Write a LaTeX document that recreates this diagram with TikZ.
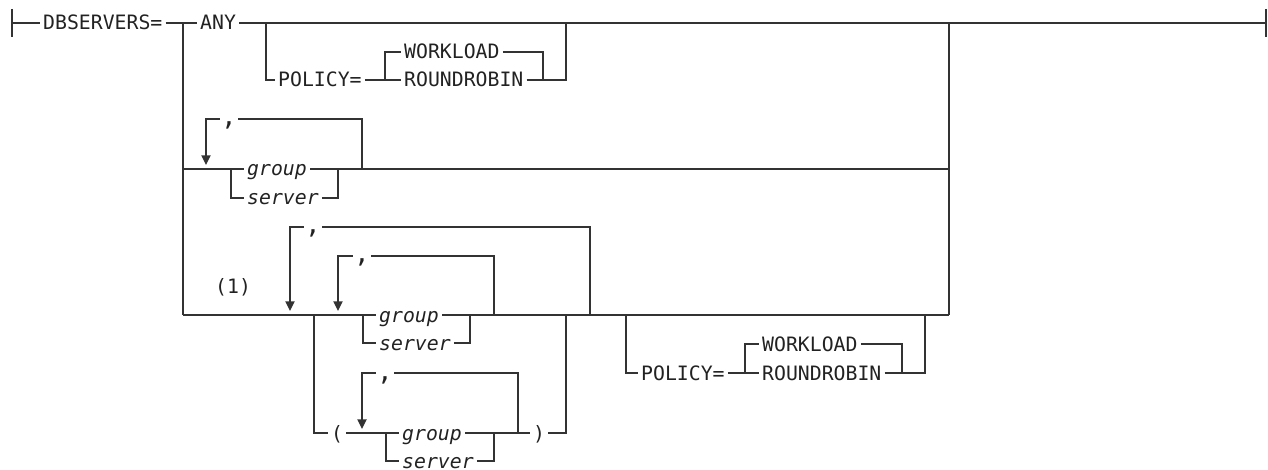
\documentclass[tikz,border=0pt]{standalone}
\usepackage{fontspec}
\newfontfamily\railfont{DejaVu Sans Mono}
\usepackage{tikz}
\usetikzlibrary{arrows.meta}
\definecolor{railgray}{HTML}{333333}
\definecolor{inkgray}{HTML}{222222}
\newcommand\railcomma{{\fontsize{13pt}{14pt}\selectfont,}}

\begin{document}
\begin{tikzpicture}[x=0.5pt, y=-0.5pt,
        rail/.style={draw=railgray, line width=0.7pt},
        loopback/.style={rail, -{Triangle[length=4.8pt, width=4.6pt]}},
        word/.style={anchor=west, inner xsep=1.4pt, inner ysep=0pt, text height=7pt, text depth=0pt,
            text=inkgray, font=\railfont\fontsize{9.9pt}{11pt}\selectfont},
        var/.style={word, font=\railfont\itshape\fontsize{9.9pt}{11pt}\selectfont},
        sep/.style={word, anchor=center, inner xsep=0.6pt},
        endbar/.style={rail}]
    \useasboundingbox (0,0) rectangle (1268,470);

    % main line
    \coordinate (lstart) at (12,23);
    \coordinate (rend) at (1266,23);
    \coordinate (jl) at (183,23);
    \coordinate (jr) at (949,23);
    \node [word] (dbs) at (40,23) {DBSERVERS=};
    \node [word] (any) at (197,23) {ANY};

    % ANY POLICY=
    \coordinate (p1a) at (266,23);
    \coordinate (p1b) at (266,80);
    \coordinate (p1c) at (566,80);
    \coordinate (p1d) at (566,23);
    \node [word] (pol1) at (275,80) {POLICY=};
    \coordinate (w1a) at (385,52);
    \coordinate (w1b) at (385,80);
    \coordinate (w1c) at (543,52);
    \coordinate (w1d) at (543,80);
    \node [word] (wl1) at (401,52) {WORKLOAD};
    \node [word] (rr1) at (401,80) {ROUNDROBIN};

    % row 2
    \coordinate (r2a) at (183,169);
    \coordinate (r2b) at (949,169);
    \coordinate (l2a) at (206,165);
    \coordinate (l2b) at (206,119);
    \coordinate (l2c) at (362,119);
    \coordinate (l2d) at (362,169);
    \node [sep] (c2) at (229,119) {\railcomma};
    \coordinate (g2a) at (231,169);
    \coordinate (g2b) at (231,198);
    \coordinate (g2c) at (338,169);
    \coordinate (g2d) at (338,198);
    \node [var] (grp2) at (244,169) {group};
    \node [var] (srv2) at (244,198) {server};

    % row 3
    \coordinate (r3a) at (183,315);
    \coordinate (r3b) at (949,315);
    \node [word] (note) at (212,286) {(1)};
    \coordinate (o3a) at (290,311);
    \coordinate (o3b) at (290,227);
    \coordinate (o3c) at (590,227);
    \coordinate (o3d) at (590,315);
    \node [sep] (c3) at (313,227) {\railcomma};
    \coordinate (i3a) at (338,311);
    \coordinate (i3b) at (338,256);
    \coordinate (i3c) at (494,256);
    \coordinate (i3d) at (494,315);
    \node [sep] (c4) at (362,256) {\railcomma};
    \coordinate (q3a) at (314,315);
    \coordinate (q3b) at (314,433);
    \coordinate (q3c) at (566,315);
    \coordinate (q3d) at (566,433);
    \coordinate (g3a) at (363,315);
    \coordinate (g3b) at (363,343);
    \coordinate (g3c) at (470,315);
    \coordinate (g3d) at (470,343);
    \node [var] (grp3) at (376,315) {group};
    \node [var] (srv3) at (376,343) {server};

    % ( ... )
    \node [word, anchor=center] (lp) at (337,433) {(};
    \node [word, anchor=center] (rp) at (539,433) {)};
    \coordinate (k3a) at (362,429);
    \coordinate (k3b) at (362,373);
    \coordinate (k3c) at (518,373);
    \coordinate (k3d) at (518,433);
    \node [sep] (c5) at (385,373) {\railcomma};
    \coordinate (g4a) at (386,433);
    \coordinate (g4b) at (386,461);
    \coordinate (g4c) at (494,433);
    \coordinate (g4d) at (494,461);
    \node [var] (grp4) at (399,433) {group};
    \node [var] (srv4) at (399,461) {server};

    % row 3 POLICY=
    \coordinate (p2a) at (626,315);
    \coordinate (p2b) at (626,373);
    \coordinate (p2c) at (925,373);
    \coordinate (p2d) at (925,315);
    \node [word] (pol2) at (638,373) {POLICY=};
    \coordinate (w2a) at (745,344);
    \coordinate (w2b) at (745,373);
    \coordinate (w2c) at (902,344);
    \coordinate (w2d) at (902,373);
    \node [word] (wl2) at (759,344) {WORKLOAD};
    \node [word] (rr2) at (759,373) {ROUNDROBIN};

    \draw [endbar] ([yshift=7pt]lstart) -- ([yshift=-7pt]lstart);
    \draw [endbar] ([yshift=7pt]rend) -- ([yshift=-7pt]rend);

    \draw [rail] (lstart) -- (dbs.west);
    \draw [rail] (dbs.east) -- (any.west);
    \draw [rail] (any.east) -- (rend);
    \draw [rail] (jl) -- (r3a);
    \draw [rail] (jr) -- (r3b);

    \draw [rail] (p1a) -- (p1b) -- (pol1.west);
    \draw [rail] (pol1.east) -- (w1b) -- (rr1.west);
    \draw [rail] (w1b) -- (w1a) -- (wl1.west);
    \draw [rail] (wl1.east) -- (w1c) -- (w1d);
    \draw [rail] (rr1.east) -- (p1c) -- (p1d);

    \draw [rail] (r2a) -- (grp2.west);
    \draw [rail] (grp2.east) -- (r2b);
    \draw [rail] (g2a) -- (g2b) -- (srv2.west);
    \draw [rail] (srv2.east) -- (g2d) -- (g2c);
    \draw [rail] (l2d) -- (l2c) -- (c2.east);
    \draw [loopback] (c2.west) -- (l2b) -- (l2a);

    \draw [rail] (r3a) -- (grp3.west);
    \draw [rail] (grp3.east) -- (r3b);
    \draw [rail] (g3a) -- (g3b) -- (srv3.west);
    \draw [rail] (srv3.east) -- (g3d) -- (g3c);
    \draw [rail] (o3d) -- (o3c) -- (c3.east);
    \draw [loopback] (c3.west) -- (o3b) -- (o3a);
    \draw [rail] (i3d) -- (i3c) -- (c4.east);
    \draw [loopback] (c4.west) -- (i3b) -- (i3a);

    \draw [rail] (q3a) -- (q3b) -- (lp.west);
    \draw [rail] (lp.east) -- (grp4.west);
    \draw [rail] (grp4.east) -- (rp.west);
    \draw [rail] (rp.east) -- (q3d) -- (q3c);
    \draw [rail] (g4a) -- (g4b) -- (srv4.west);
    \draw [rail] (srv4.east) -- (g4d) -- (g4c);
    \draw [rail] (k3d) -- (k3c) -- (c5.east);
    \draw [loopback] (c5.west) -- (k3b) -- (k3a);

    \draw [rail] (p2a) -- (p2b) -- (pol2.west);
    \draw [rail] (pol2.east) -- (w2b) -- (rr2.west);
    \draw [rail] (w2b) -- (w2a) -- (wl2.west);
    \draw [rail] (wl2.east) -- (w2c) -- (w2d);
    \draw [rail] (rr2.east) -- (p2c) -- (p2d);
\end{tikzpicture}
\end{document}
